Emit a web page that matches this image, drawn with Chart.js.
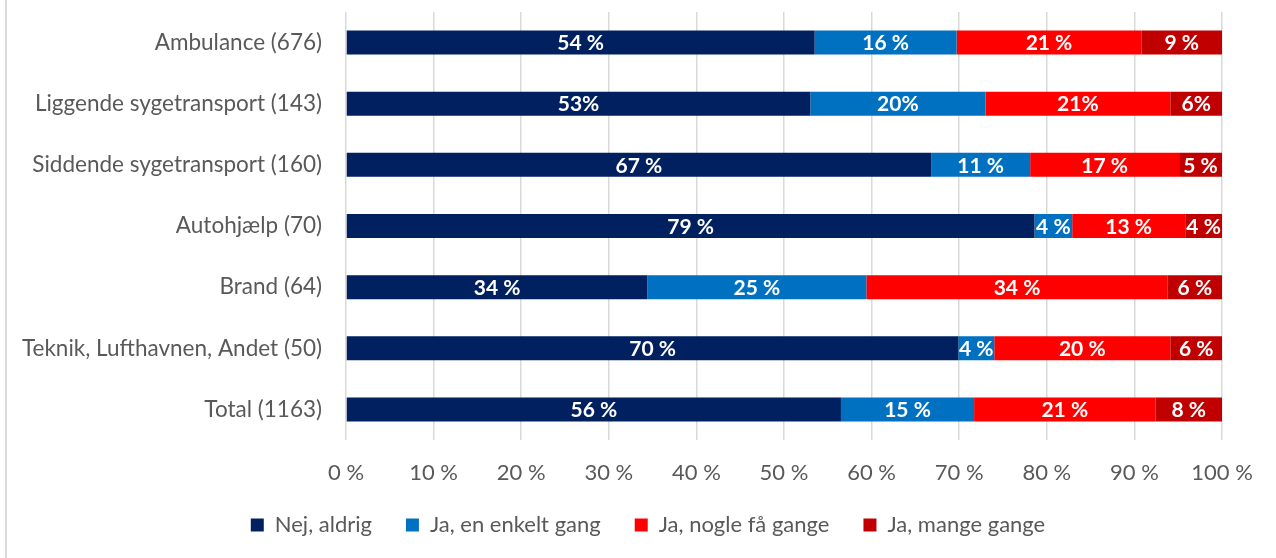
<!DOCTYPE html>
<html>
<head>
<meta charset="utf-8">
<script src="https://cdn.jsdelivr.net/npm/chart.js@4.4.1/dist/chart.umd.min.js"></script>
<style>
  html, body { margin: 0; padding: 0; background: #fff; }
  #wrap { position: relative; width: 1276px; height: 558px; }
  #wrap::before { content: ''; position: absolute; left: 5px; top: 0; bottom: 0; border-left: 2px solid #d9d9d9; }
</style>
</head>
<body>
<div id="wrap"><canvas id="chart"></canvas></div>
<script>
// --- data ---
const categories = [
  'Ambulance (676)',
  'Liggende sygetransport (143)',
  'Siddende sygetransport (160)',
  'Autohjælp (70)',
  'Brand (64)',
  'Teknik, Lufthavnen, Andet (50)',
  'Total (1163)'
];
const seriesNames = ['Nej, aldrig', 'Ja, en enkelt gang', 'Ja, nogle få gange', 'Ja, mange gange'];

const nejAldrig   = [53.5, 53.0, 66.8, 78.6, 34.4, 69.9, 56.5];
const jaEnkelt    = [16.2, 20.0, 11.3,  4.3, 25.0,  4.1, 15.2];
const jaNogleFaa  = [21.1, 21.1, 17.0, 12.9, 34.4, 20.1, 20.7];
const jaMange     = [ 9.2,  5.9,  4.9,  4.2,  6.2,  5.9,  7.6];

// labels as printed on the bars
const nejLabels    = ['54 %', '53%', '67 %', '79 %', '34 %', '70 %', '56 %'];
const enkeltLabels = ['16 %', '20%', '11 %', '4 %', '25 %', '4 %', '15 %'];
const nogleLabels  = ['21 %', '21%', '17 %', '13 %', '34 %', '20 %', '21 %'];
const mangeLabels  = ['9 %', '6%', '5 %', '4 %', '6 %', '6 %', '8 %'];

const xTicks = [0, 10, 20, 30, 40, 50, 60, 70, 80, 90, 100];

const colors = ['#002060', '#0070C0', '#FF0000', '#C00000'];
const FONT = 'Lato, "Open Sans", sans-serif';
const GREY = '#595959';

// draws the value text in the middle of each bar segment
const barLabels = {
  id: 'barLabels',
  afterDatasetsDraw(chart) {
    const ctx = chart.ctx;
    ctx.save();
    ctx.fillStyle = '#fff';
    ctx.font = 'bold 21px ' + FONT;
    ctx.textAlign = 'center';
    ctx.textBaseline = 'middle';
    chart.data.datasets.forEach((ds, i) => {
      chart.getDatasetMeta(i).data.forEach((bar, j) => {
        const cx = (bar.x + bar.base) / 2;
        ctx.fillText(ds.valueLabels[j], cx, bar.y + 1);
      });
    });
    ctx.restore();
  }
};

// nudge the legend a little to the right and up, like the original
const legendNudge = {
  id: 'legendNudge',
  afterLayout(chart) {
    const lg = chart.legend;
    lg.left += 37; lg.right += 37;
    lg.top -= 4; lg.bottom -= 4;
  }
};

const values = [nejAldrig, jaEnkelt, jaNogleFaa, jaMange];
const labelSets = [nejLabels, enkeltLabels, nogleLabels, mangeLabels];

new Chart(document.getElementById('chart'), {
  type: 'bar',
  data: {
    labels: categories,
    datasets: seriesNames.map((name, i) => ({
      label: name,
      data: values[i],
      valueLabels: labelSets[i],
      backgroundColor: colors[i],
      borderWidth: 0,
      barPercentage: 0.393,
      categoryPercentage: 1
    }))
  },
  options: {
    indexAxis: 'y',
    responsive: true,
    maintainAspectRatio: false,
    animation: false,
    layout: { padding: { left: 0, right: 54, top: 12, bottom: 8 } },
    scales: {
      x: {
        stacked: true,
        min: 0,
        max: 100,
        afterBuildTicks(scale) { scale.ticks = xTicks.map(v => ({ value: v })); },
        afterFit(scale) { scale.height = 44; scale.paddingLeft = 0; scale.paddingRight = 0; },
        ticks: {
          callback: v => v + ' %',
          color: GREY,
          font: { family: FONT, size: 22 },
          padding: 20,
          maxRotation: 0
        },
        grid: { color: '#d9d9d9', lineWidth: 1.5, drawTicks: false },
        border: { display: false }
      },
      y: {
        stacked: true,
        afterFit(scale) { scale.width = 346; scale.paddingTop = 0; scale.paddingBottom = 0; },
        ticks: {
          color: GREY,
          font: { family: FONT, size: 22.5 },
          padding: 16
        },
        grid: { display: false },
        border: { display: false }
      }
    },
    plugins: {
      legend: {
        position: 'bottom',
        labels: {
          color: GREY,
          font: { family: FONT, size: 22 },
          boxWidth: 13,
          boxHeight: 13,
          padding: 34
        }
      },
      tooltip: { enabled: false }
    }
  },
  plugins: [barLabels, legendNudge]
});
</script>
</body>
</html>
